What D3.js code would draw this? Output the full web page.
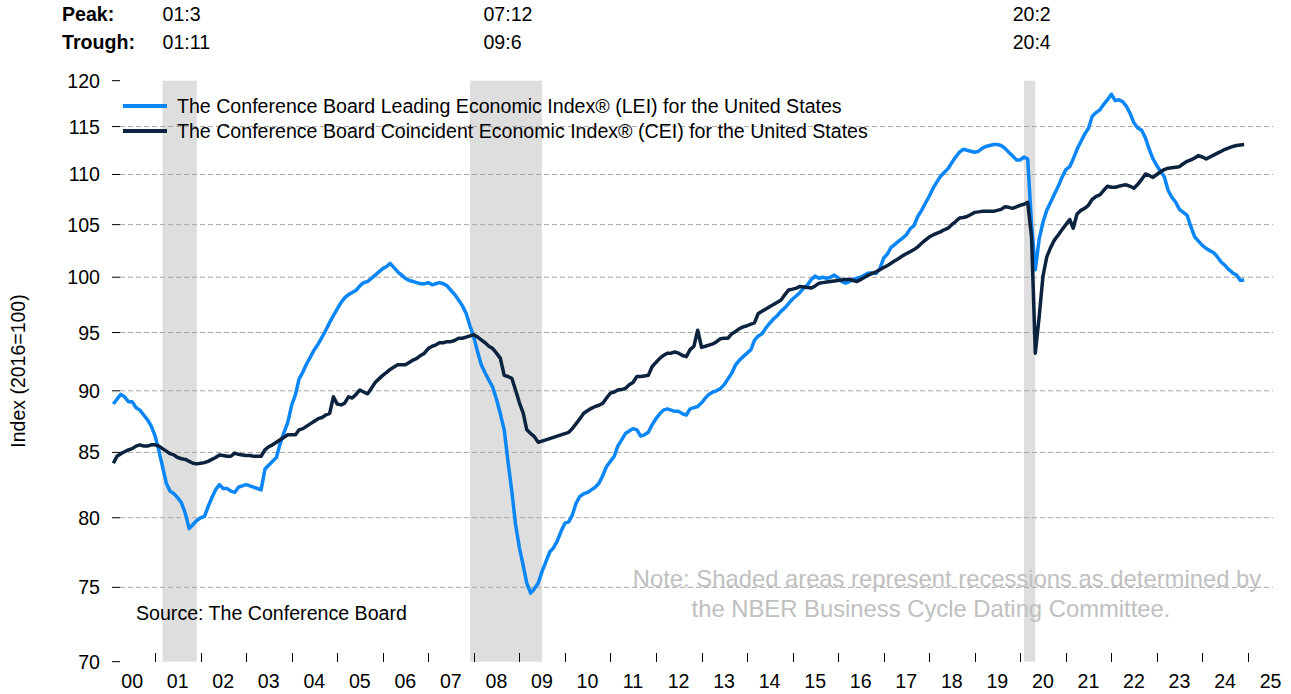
<!DOCTYPE html>
<html>
<head>
<meta charset="utf-8">
<script src="https://cdn.jsdelivr.net/npm/d3@7"></script>
<style>
  body { margin: 0; background: #fff; }
  svg { display: block; }
  text { font-family: "Liberation Sans", Arial, sans-serif; }
</style>
</head>
<body>
<div id="chart"></div>
<script>
// monthly series, first value = 2000-01
const seriesStart = "2000-01";

const leiValues = [
  88.9, 89.3, 89.7, 89.5, 89.1, 89.1, 88.6, 88.4, 88.0, 87.6, 87.1, 86.3,
  85.1, 83.9, 82.6, 82.0, 81.8, 81.5, 81.1, 80.3, 79.2, 79.5, 79.8, 80.0,
  80.1, 80.8, 81.5, 82.1, 82.5, 82.2, 82.2, 82.0, 81.9, 82.3, 82.4, 82.5,
  82.4, 82.3, 82.2, 82.1, 83.7, 84.0, 84.3, 84.6, 85.7, 86.6, 87.4, 88.8,
  89.7, 91.0, 91.6, 92.3, 92.9, 93.5, 94.0, 94.6, 95.2, 95.9, 96.5, 97.1,
  97.7, 98.1, 98.4, 98.6, 98.8, 99.2, 99.5, 99.6, 99.9, 100.2, 100.5, 100.8,
  101.0, 101.3, 100.9, 100.5, 100.2, 99.9, 99.7, 99.6, 99.5, 99.4, 99.4, 99.5,
  99.3, 99.4, 99.5, 99.4, 99.2, 98.8, 98.4, 97.9, 97.4, 96.7, 95.6, 94.6,
  93.3, 92.2, 91.5, 90.9, 90.3, 89.3, 88.1, 86.8, 84.3, 82.0, 79.5, 77.8,
  76.5, 75.3, 74.6, 74.9, 75.3, 76.1, 76.8, 77.5, 77.8, 78.3, 79.0, 79.6,
  79.7, 80.2, 81.1, 81.6, 81.8, 81.9, 82.1, 82.3, 82.6, 83.2, 83.9, 84.3,
  84.7, 85.5, 86.0, 86.5, 86.7, 86.9, 86.8, 86.3, 86.4, 86.6, 87.2, 87.7,
  88.1, 88.4, 88.5, 88.4, 88.3, 88.3, 88.1, 88.0, 88.5, 88.6, 88.7, 89.0,
  89.4, 89.7, 89.9, 90.0, 90.2, 90.5, 91.0, 91.5, 92.2, 92.6, 92.9, 93.2,
  93.5, 94.3, 94.7, 94.9, 95.4, 95.8, 96.2, 96.5, 96.9, 97.2, 97.6, 98.0,
  98.3, 98.6, 99.0, 99.3, 99.8, 100.1, 99.9, 100.0, 99.9, 100.0, 100.2, 99.95,
  99.6, 99.45, 99.6, 99.8, 99.9, 100.0, 100.2, 100.4, 100.4, 100.35, 100.8, 101.8,
  102.2, 102.8, 103.1, 103.4, 103.7, 104.0, 104.6, 104.9, 105.8, 106.4, 107.1, 107.8,
  108.6, 109.2, 109.8, 110.2, 110.6, 111.2, 111.8, 112.3, 112.6, 112.5, 112.4, 112.3,
  112.4, 112.7, 112.9, 113.0, 113.1, 113.1, 113.0, 112.7, 112.3, 111.9, 111.5, 111.5,
  111.8, 111.6, 105.0, 100.7, 103.6, 105.2, 106.4, 107.2, 108.0, 108.8, 109.7, 110.5,
  110.8, 111.6, 112.6, 113.4, 114.2, 114.8, 116.1, 116.5, 116.8, 117.4, 117.9, 118.5,
  117.8, 117.9, 117.7, 117.2, 116.4, 115.4, 114.85, 114.6, 113.8, 112.6, 111.6, 110.9,
  110.3, 109.8, 108.4, 107.7, 107.2, 106.5, 106.2, 105.9, 104.8, 103.8, 103.4, 103.0,
  102.7, 102.5, 102.3, 101.9, 101.4, 101.1, 100.7, 100.4, 100.2, 99.7, 99.75
];

const ceiValues = [
  84.15, 84.7, 84.9, 85.05, 85.2, 85.3, 85.5, 85.6, 85.5, 85.5, 85.6, 85.6,
  85.5, 85.3, 85.1, 84.9, 84.8, 84.6, 84.5, 84.45, 84.3, 84.15, 84.1, 84.15,
  84.2, 84.3, 84.45, 84.6, 84.8, 84.75, 84.7, 84.7, 84.95, 84.85, 84.8, 84.75,
  84.75, 84.7, 84.7, 84.7, 85.2, 85.45, 85.6, 85.8, 86.0, 86.2, 86.4, 86.4,
  86.4, 86.8, 86.9, 87.1, 87.3, 87.5, 87.7, 87.8, 88.0, 88.14, 89.5, 88.9,
  88.83, 88.97, 89.5, 89.4, 89.7, 90.07, 89.9, 89.75, 90.2, 90.7, 91.0, 91.3,
  91.55, 91.8, 92.0, 92.2, 92.2, 92.2, 92.4, 92.6, 92.75, 93.0, 93.2, 93.6,
  93.8, 93.9, 94.1, 94.1, 94.2, 94.2, 94.3, 94.5, 94.5, 94.6, 94.7, 94.8,
  94.6, 94.35, 94.1, 93.8, 93.6, 93.2, 92.75, 91.3, 91.2, 91.05, 90.07, 89.0,
  88.14, 86.8, 86.5, 86.25, 85.8, 85.9, 86.0, 86.1, 86.2, 86.3, 86.4, 86.5,
  86.6, 86.9, 87.3, 87.7, 88.14, 88.35, 88.55, 88.7, 88.8, 88.97, 89.4, 89.8,
  89.9, 90.07, 90.1, 90.2, 90.5, 90.7, 91.2, 91.2, 91.25, 91.3, 92.03, 92.4,
  92.75, 93.0, 93.2, 93.2, 93.3, 93.2, 93.0, 92.9, 93.5, 93.8, 95.2, 93.7,
  93.8, 93.9, 94.0, 94.2, 94.45, 94.5, 94.5, 94.9, 95.1, 95.35, 95.5, 95.6,
  95.75, 95.85, 96.7, 96.9, 97.1, 97.3, 97.5, 97.7, 97.9, 98.4, 98.83, 98.9,
  99.0, 99.15, 99.1, 99.05, 99.0, 99.2, 99.44, 99.5, 99.55, 99.6, 99.65, 99.7,
  99.75, 99.8, 99.8, 99.7, 99.6, 99.8, 100.0, 100.2, 100.35, 100.5, 100.7, 100.9,
  101.1, 101.3, 101.55, 101.75, 102.0, 102.2, 102.4, 102.6, 102.85, 103.2, 103.5, 103.8,
  104.0, 104.15, 104.3, 104.5, 104.65, 105.0, 105.3, 105.65, 105.7, 105.8, 106.0, 106.2,
  106.25, 106.3, 106.3, 106.3, 106.3, 106.4, 106.5, 106.75, 106.7, 106.6, 106.75, 106.9,
  107.0, 107.2, 103.8, 93.2, 96.4, 100.05, 101.9, 102.8, 103.5, 104.0, 104.5, 105.0,
  105.5, 104.65, 106.05, 106.4, 106.6, 106.9, 107.5, 107.8, 107.95, 108.4, 108.8, 108.7,
  108.7, 108.8, 108.9, 108.95, 108.8, 108.6, 109.0, 109.5, 110.05, 109.9, 109.7, 110.0,
  110.3, 110.5, 110.65, 110.7, 110.75, 110.8, 111.1, 111.35, 111.5, 111.7, 111.95, 111.8,
  111.6, 111.8, 112.0, 112.2, 112.4, 112.6, 112.75, 112.9, 113.0, 113.05, 113.1
];

const seriesNames = [
  "The Conference Board Leading Economic Index\u00AE (LEI) for the United States",
  "The Conference Board Coincident Economic Index\u00AE (CEI) for the United States"
];
const seriesColors = ["#0a86f7", "#0c2340"];

// NBER recessions (peak month, trough month)
const recessionPeaks = ["2001-03", "2007-12", "2020-02"];
const recessionTroughs = ["2001-11", "2009-06", "2020-04"];

const yTicks = [70, 75, 80, 85, 90, 95, 100, 105, 110, 115, 120];
const yGrid = [75, 80, 85, 90, 95, 100, 105, 110, 115];
const yearLabels = ["00", "01", "02", "03", "04", "05", "06", "07", "08", "09", "10", "11", "12",
  "13", "14", "15", "16", "17", "18", "19", "20", "21", "22", "23", "24", "25"];

const width = 1291, height = 694;
const fs = "19.6px";
const parseMonth = d3.timeParse("%Y-%m");
const start = parseMonth(seriesStart);

const svg = d3.select("#chart").append("svg")
  .attr("width", width).attr("height", height)
  .attr("viewBox", [0, 0, width, height]);

const x = d3.scaleTime()
  .domain([new Date(2000, 0, 1), new Date(2026, 0, 1)])
  .range([109.5, 1293.5]);
const y = d3.scaleLog().domain([70, 120]).range([661.7, 80.7]);

// points sit at month end
const toPoints = vals => vals.map((v, i) => ({ date: d3.timeMonth.offset(start, i + 1), value: v }));
const series = [toPoints(leiValues), toPoints(ceiValues)];

// recession shading
const rec = recessionPeaks.map((p, i) => ({
  peak: parseMonth(p), trough: parseMonth(recessionTroughs[i])
}));
svg.append("g").selectAll("rect").data(rec).join("rect")
  .attr("x", d => x(d.peak))
  .attr("width", d => x(d3.timeMonth.offset(d.trough, 1)) - x(d.peak))
  .attr("y", y(120)).attr("height", y(70) - y(120))
  .attr("fill", "#dedede");

// grid lines
svg.append("g").selectAll("line").data(yGrid).join("line")
  .attr("x1", 120).attr("x2", 1273)
  .attr("y1", d => y(d)).attr("y2", d => y(d))
  .attr("stroke", "#a6a6a6").attr("stroke-width", 1)
  .attr("stroke-dasharray", "5,3");

// y ticks + labels
const yAxis = svg.append("g");
yAxis.selectAll("line").data(yTicks).join("line")
  .attr("x1", 112).attr("x2", 120)
  .attr("y1", d => y(d)).attr("y2", d => y(d))
  .attr("stroke", "#000");
yAxis.selectAll("text").data(yTicks).join("text")
  .attr("x", 100).attr("y", d => y(d) + 7)
  .attr("text-anchor", "end")
  .style("font-size", fs)
  .text(d => d);

svg.append("text")
  .attr("transform", "translate(25, 371) rotate(-90)")
  .attr("text-anchor", "middle")
  .style("font-size", "19.5px")
  .text("Index (2016=100)");

// x ticks at year boundaries, labels mid-year
const years = d3.range(2001, 2026);
svg.append("g").selectAll("line").data(years).join("line")
  .attr("x1", d => Math.round(x(new Date(d, 0, 1))) + 0.5)
  .attr("x2", d => Math.round(x(new Date(d, 0, 1))) + 0.5)
  .attr("y1", 653).attr("y2", 662)
  .attr("stroke", "#000");
svg.append("g").selectAll("text").data(yearLabels).join("text")
  .attr("x", (d, i) => x(new Date(2000 + i, 6, 1)))
  .attr("y", 688)
  .attr("text-anchor", "middle")
  .style("font-size", fs)
  .text(d => d);

// lines
const line = d3.line().x(d => x(d.date)).y(d => y(d.value));
svg.append("g").selectAll("path").data(series).join("path")
  .attr("d", line)
  .attr("fill", "none")
  .attr("stroke", (d, i) => seriesColors[i])
  .attr("stroke-width", 3.5)
  .attr("stroke-linejoin", "round");

// legend
const legend = svg.append("g");
seriesNames.forEach((name, i) => {
  const ly = 106 + i * 25;
  legend.append("line").attr("x1", 123).attr("x2", 167).attr("y1", ly).attr("y2", ly)
    .attr("stroke", seriesColors[i]).attr("stroke-width", 4);
  legend.append("text").attr("x", 177).attr("y", ly + 7)
    .style("font-size", fs).text(name);
});

// peak / trough header
const fmtYear = d3.timeFormat("%y");
const label = d => fmtYear(d) + ":" + (d.getMonth() + 1);
svg.append("text").attr("x", 62).attr("y", 21).style("font-size", fs).style("font-weight", "bold").text("Peak:");
svg.append("text").attr("x", 62).attr("y", 49).style("font-size", fs).style("font-weight", "bold").text("Trough:");
rec.forEach(d => {
  const cx = (x(d.peak) + x(d3.timeMonth.offset(d.trough, 1))) / 2;
  const pk = svg.append("text").attr("y", 21).style("font-size", fs).text(label(d.peak));
  const left = cx + 2 - pk.node().getComputedTextLength() / 2;
  pk.attr("x", left);
  svg.append("text").attr("x", left).attr("y", 49).style("font-size", fs).text(label(d.trough));
});

// notes
svg.append("text").attr("x", 136).attr("y", 620).style("font-size", fs)
  .text("Source: The Conference Board");
const note = svg.append("g").attr("fill", "#c0c0c0").style("font-size", "23.8px");
note.append("text").attr("x", 947).attr("y", 587).attr("text-anchor", "middle")
  .text("Note: Shaded areas represent recessions as determined by");
note.append("text").attr("x", 931).attr("y", 617).attr("text-anchor", "middle")
  .text("the NBER Business Cycle Dating Committee.");
</script>
</body>
</html>
